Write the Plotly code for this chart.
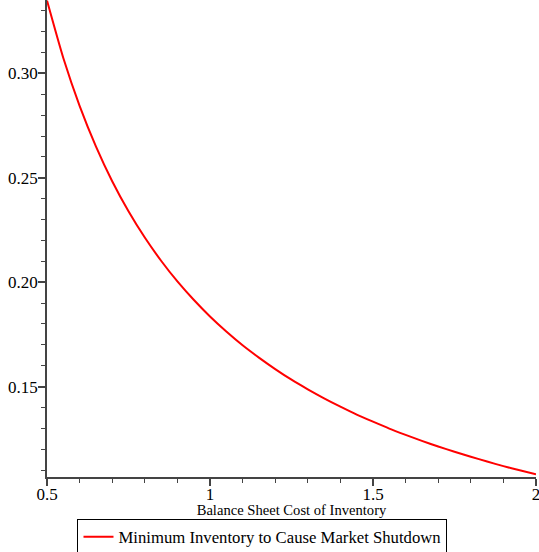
import plotly.graph_objects as go

# Values
cost = [0.50, 0.55, 0.60, 0.65, 0.70, 0.75, 0.80, 0.85, 0.90, 0.95,
        1.00, 1.05, 1.10, 1.15, 1.20, 1.25, 1.30, 1.35, 1.40, 1.45,
        1.50, 1.55, 1.60, 1.65, 1.70, 1.75, 1.80, 1.85, 1.90, 1.95, 2.00]
min_inventory = [0.3349, 0.3074, 0.2845, 0.2651, 0.2484, 0.2340, 0.2214, 0.2103, 0.2004, 0.1916,
                 0.1836, 0.1764, 0.1698, 0.1639, 0.1584, 0.1533, 0.1487, 0.1444, 0.1404, 0.1366,
                 0.1332, 0.1299, 0.1269, 0.1240, 0.1213, 0.1188, 0.1164, 0.1141, 0.1119, 0.1099, 0.1080]

x_tickvals = [0.5, 1, 1.5, 2]
x_ticktext = ["0.5", "1", "1.5", "2"]
y_tickvals = [0.15, 0.20, 0.25, 0.30]
y_ticktext = ["0.15", "0.20", "0.25", "0.30"]

series_name = "Minimum Inventory to Cause Market Shutdown"
x_title = "Balance Sheet Cost of Inventory"

FONT = "Liberation Serif, Times New Roman, serif"
AXC = "#444444"

fig = go.Figure()
fig.add_trace(go.Scatter(
    x=cost, y=min_inventory, mode="lines", name=series_name,
    line=dict(color="#ff0000", width=2, shape="spline", smoothing=0.6),
))

fig.update_layout(
    width=539, height=552,
    margin=dict(l=47, r=3, t=0, b=75),
    paper_bgcolor="white", plot_bgcolor="white",
    font=dict(family=FONT, size=17, color="black"),
    showlegend=True,
    legend=dict(
        orientation="h",
        xref="container", yref="container",
        x=0.487, xanchor="center",
        y=1 - 537 / 552, yanchor="middle",
        bordercolor="black", borderwidth=1,
        font=dict(family=FONT, size=16.7, color="black"),
        itemwidth=30,
    ),
)

fig.update_xaxes(
    range=[0.5, 2.0], automargin=False,
    tickmode="array", tickvals=x_tickvals, ticktext=x_ticktext,
    ticks="outside", ticklen=7, tickwidth=1.5, tickcolor=AXC,
    ticklabelstandoff=-6, ticklabeloverflow="allow",
    showline=True, linecolor=AXC, linewidth=1.5,
    showgrid=False, zeroline=False,
    tickfont=dict(family=FONT, size=17),
    minor=dict(dtick=0.1, tick0=0.5, ticks="outside", ticklen=4, tickwidth=1, tickcolor=AXC, showgrid=False),
    title=dict(text=x_title, font=dict(family=FONT, size=14.6), standoff=0),
)
fig.update_yaxes(
    range=[0.1067, 0.3352], automargin=False,
    tickmode="array", tickvals=y_tickvals, ticktext=y_ticktext,
    ticks="outside", ticklen=7, tickwidth=1.5, tickcolor=AXC,
    ticklabelstandoff=-3, ticklabeloverflow="allow",
    showline=True, linecolor=AXC, linewidth=1.5,
    showgrid=False, zeroline=False,
    tickfont=dict(family=FONT, size=17),
    minor=dict(dtick=0.01, tick0=0.1, ticks="outside", ticklen=4, tickwidth=1, tickcolor=AXC, showgrid=False),
)

fig.write_html("out.html", config={"displayModeBar": False},
               post_script="document.body.style.margin='0';")
